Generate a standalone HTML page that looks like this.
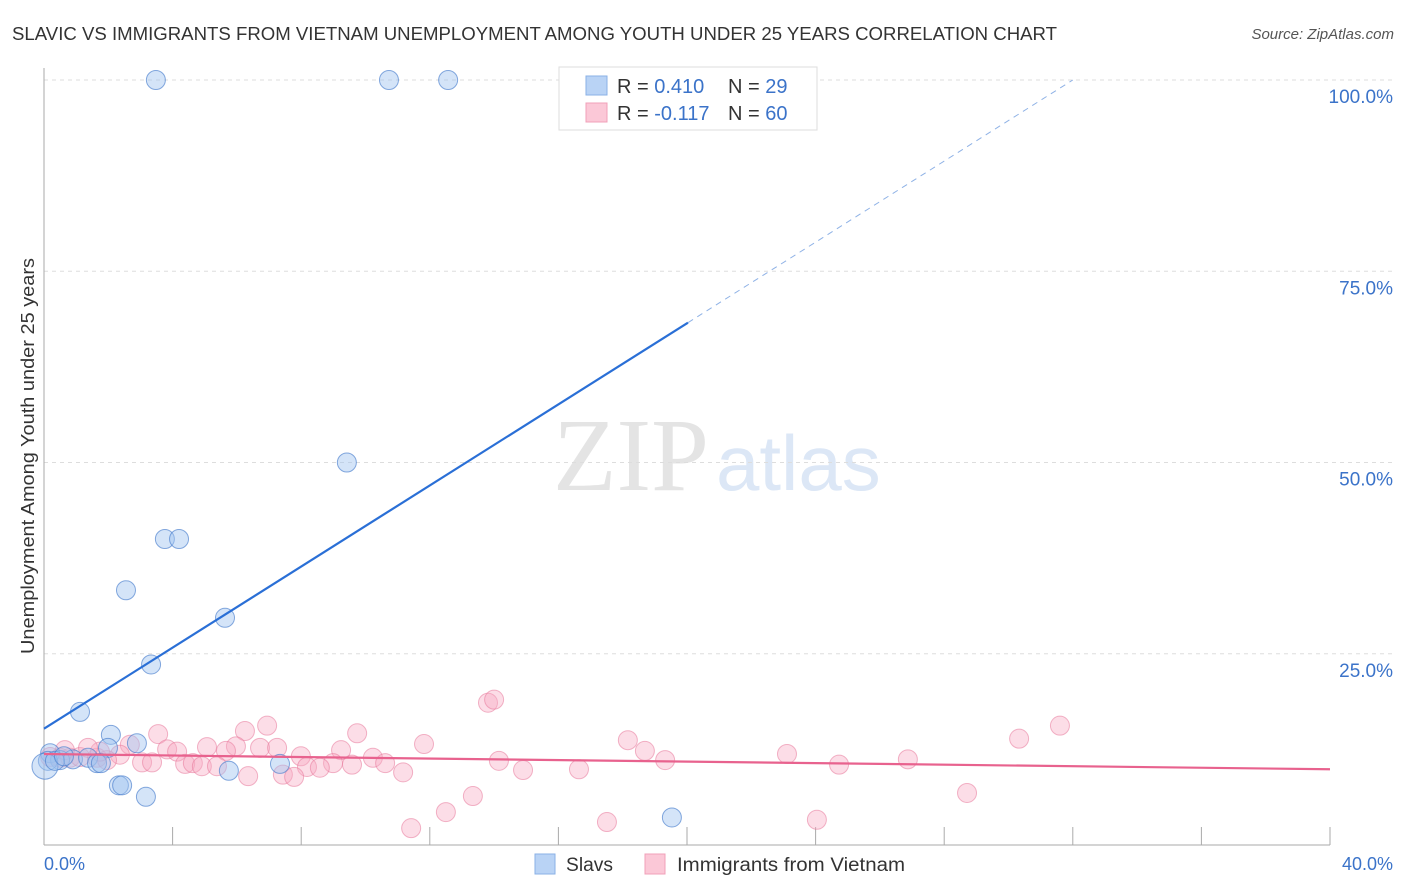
<!DOCTYPE html>
<html><head><meta charset="utf-8"><style>
body{margin:0;background:#fff;font-family:"Liberation Sans",sans-serif}
svg{display:block}
</style></head><body>
<svg id="chart" width="1406" height="892" xmlns="http://www.w3.org/2000/svg">
<text x="12" y="40" font-size="18" fill="#333" textLength="1045" lengthAdjust="spacingAndGlyphs" font-family="Liberation Sans, sans-serif">SLAVIC VS IMMIGRANTS FROM VIETNAM UNEMPLOYMENT AMONG YOUTH UNDER 25 YEARS CORRELATION CHART</text>
<text x="1394" y="39" font-size="15" fill="#555" text-anchor="end" font-style="italic">Source: ZipAtlas.com</text>
<g>
<text x="553" y="490" font-size="104" fill="#e4e4e4" font-family="Liberation Serif, serif">ZIP</text>
<text x="716" y="490" font-size="78" fill="#dce7f6" font-family="Liberation Sans, sans-serif">atlas</text>
</g>
<g id="grid"></g><g id="axes"></g><g id="marks"></g>
<text transform="translate(34,456) rotate(-90)" text-anchor="middle" font-size="18" fill="#333" textLength="396" lengthAdjust="spacingAndGlyphs">Unemployment Among Youth under 25 years</text>
<text x="44" y="870" font-size="18" fill="#3b73c9">0.0%</text>
<text x="1393" y="870" font-size="18" fill="#3b73c9" text-anchor="end">40.0%</text>
<g>
<rect x="559" y="67" width="258" height="63" fill="#fff" stroke="#ddd"/>
<rect x="586" y="76" width="21" height="19" fill="#b9d3f5" stroke="#8ab0e6"/>
<rect x="586" y="103" width="21" height="19" fill="#fbc8d7" stroke="#f0a0b8"/>
<text x="617" y="93" font-size="20" fill="#333">R = <tspan fill="#3b73c9">0.410</tspan></text>
<text x="728" y="93" font-size="20" fill="#333">N = <tspan fill="#3b73c9">29</tspan></text>
<text x="617" y="120" font-size="20" fill="#333">R = <tspan fill="#3b73c9">-0.117</tspan></text>
<text x="728" y="120" font-size="20" fill="#333">N = <tspan fill="#3b73c9">60</tspan></text>
</g>
<g>
<rect x="535" y="854" width="20" height="20" fill="#b9d3f5" stroke="#8ab0e6"/>
<text x="566" y="871" font-size="19" fill="#333" textLength="47" lengthAdjust="spacingAndGlyphs">Slavs</text>
<rect x="645" y="854" width="20" height="20" fill="#fbc8d7" stroke="#f0a0b8"/>
<text x="677" y="871" font-size="19" fill="#333" textLength="228" lengthAdjust="spacingAndGlyphs">Immigrants from Vietnam</text>
</g>
</svg>
<script>
const yTicks=[25,50,75,100];
const yTickLabels=["25.0%","50.0%","75.0%","100.0%"];
const xTicks=[0,4,8,12,16,20,24,28,32,36,40];
const slavsX=[3.48,10.73,12.57,9.42,3.76,4.2,2.55,5.63,3.33,1.12,2.08,2.89,1.99,0.19,0.5,0.9,1.37,1.65,1.77,2.33,2.43,3.17,7.34,5.75,19.53,0.12,0.03,0.34,0.62];
const slavsY=[100,100,100,50,40,40,33.3,29.7,23.6,17.4,14.4,13.3,12.7,12.0,11.1,11.2,11.4,10.7,10.7,7.8,7.8,6.3,10.6,9.7,3.6,11.0,10.3,11.0,11.6];
const vietPx=[[158,734],[267,726],[245,731],[357,733],[424,744],[207,747],[236,746],[226,751],[260,748],[277,748],[341,750],[167,749],[177,752],[130,745],[120,755],[301,756],[373,758],[142,762],[152,762],[185,764],[193,763],[202,766],[217,766],[333,763],[352,765],[385,763],[307,767],[320,768],[248,776],[283,775],[294,777],[403,772],[411,828],[446,812],[473,796],[50,757],[60,758],[70,758],[80,757],[97,758],[107,760],[65,750],[488,703],[494,700],[499,761],[523,770],[100,752],[579,769],[607,822],[628,740],[645,751],[665,760],[787,754],[839,765],[817,820],[908,759],[967,793],[1019,739],[1060,726],[88,748]];
// vietnam values expressed in data units
const vietX=vietPx.map(p=>+((p[0]-44)/32.15).toFixed(2));
const vietY=vietPx.map(p=>+((845-p[1])/7.65).toFixed(1));
const slavsTrend=[15.2,2.65]; // intercept, slope
const vietTrend=[11.9,-0.05];
const X0=44,X1=1330,Y0=845,Y1=80;
const xs=v=>X0+(X1-X0)*v/40;
const ys=v=>Y0-(Y0-Y1)*v/100;
const NS="http://www.w3.org/2000/svg";
function mk(t,a,p){const e=document.createElementNS(NS,t);for(const k in a)e.setAttribute(k,a[k]);p.appendChild(e);return e;}
const grid=document.getElementById('grid'),axes=document.getElementById('axes'),marks=document.getElementById('marks');
yTicks.forEach((t,i)=>{
 const l=mk('line',{x1:X0,x2:1393,y1:ys(t),y2:ys(t),stroke:'#ddd','stroke-dasharray':'4,4'},grid);
 
 
 const tx=mk('text',{x:1393,y:ys(t)+23,'text-anchor':'end','font-size':19,fill:'#3b73c9'},grid);
 tx.textContent=yTickLabels[i];
 
 
});
const ax=mk('line',{x1:X0,x2:X0,y1:68,y2:Y0,stroke:'#aaa'},axes);


const bx=mk('line',{x1:X0,x2:X1,y1:Y0,y2:Y0,stroke:'#aaa'},axes);


xTicks.slice(1).forEach(t=>{
 const l=mk('line',{x1:xs(t),x2:xs(t),y1:Y0-18,y2:Y0,stroke:'#aaa'},axes);
 
 
});
vietX.forEach((x,i)=>{
 const c=mk('circle',{cx:xs(x),cy:ys(vietY[i]),r:9.5,fill:'rgba(248,170,195,0.4)',stroke:'rgba(232,120,155,0.55)','stroke-width':1},marks);
 
 
});
slavsX.forEach((x,i)=>{
 const c=mk('circle',{cx:xs(x),cy:ys(slavsY[i]),r:i==26?13:9.5,fill:'rgba(160,195,240,0.45)',stroke:'rgba(70,125,205,0.65)','stroke-width':1},marks);
 
 
});
const sEnd=20.03, sMax=(100-slavsTrend[0])/slavsTrend[1];
const t1=mk('line',{x1:xs(0),y1:ys(slavsTrend[0]),x2:xs(sEnd),y2:ys(slavsTrend[0]+slavsTrend[1]*sEnd),stroke:'#2a6fd6','stroke-width':2.2},marks);


const t2=mk('line',{x1:xs(sEnd),y1:ys(slavsTrend[0]+slavsTrend[1]*sEnd),x2:xs(sMax),y2:ys(100),stroke:'#8fb2e6','stroke-width':1,'stroke-dasharray':'6,5'},marks);


const t3=mk('line',{x1:xs(0),y1:ys(vietTrend[0]),x2:xs(40),y2:ys(vietTrend[0]+vietTrend[1]*40),stroke:'#e8628e','stroke-width':2.2},marks);


</script>
</body></html>
